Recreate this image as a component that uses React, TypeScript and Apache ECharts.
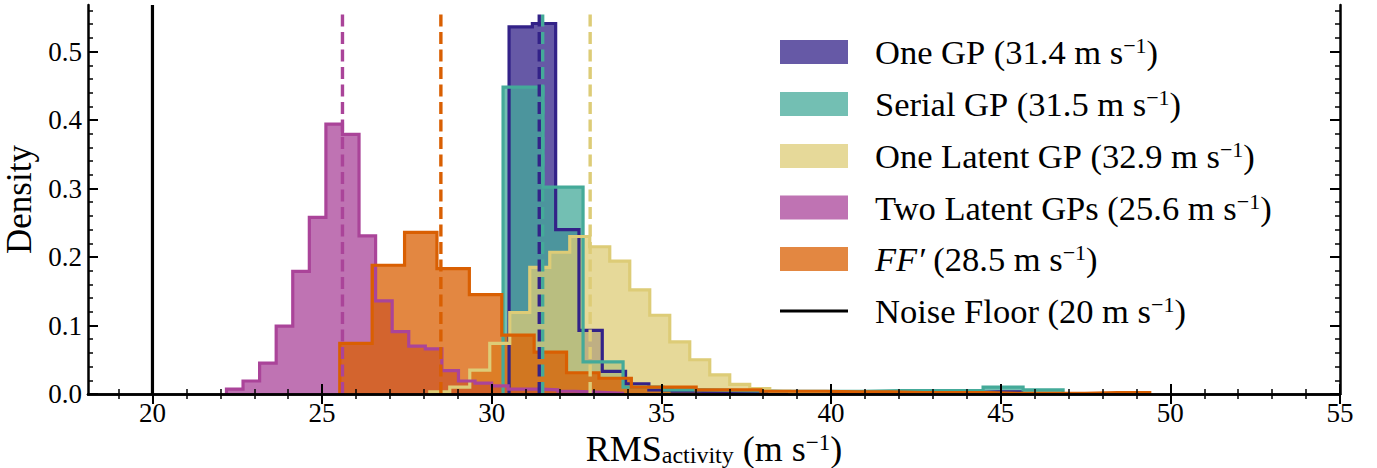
import React, { useEffect, useRef } from "react";
import * as echarts from "echarts";

// ---- data (density per bin) ----
const oneGPStart = 30.51;
const oneGPWidth = 0.6867;
const oneGP = [0.536, 0.541, 0.24, 0.093, 0.033, 0.015, 0.006, 0.004, 0.003, 0.002, 0.002, 0.001, 0.001, 0.001, 0.001, 0.001, 0.001, 0.001, 0.001, 0.002, 0.003, 0.003];

const serialGPStart = 30.333;
const serialGPWidth = 1.179;
const serialGP = [0.448, 0.302, 0.047, 0.01, 0.006, 0.005, 0.004, 0.004, 0.004, 0.005, 0.005, 0.005, 0.01, 0.006];

const oneLatentStart = 28.173;
const oneLatentWidth = 0.5894;
const oneLatent = [0.003, 0.01, 0.035, 0.074, 0.119, 0.185, 0.207, 0.23, 0.215, 0.194, 0.152, 0.115, 0.076, 0.05, 0.028, 0.014, 0.008, 0.004, 0.002, 0.001];

const twoLatentStart = 22.181;
const twoLatentWidth = 0.4884;
const twoLatent = [0.007, 0.019, 0.045, 0.099, 0.179, 0.258, 0.394, 0.379, 0.231, 0.136, 0.091, 0.07, 0.066, 0.034, 0.019, 0.016, 0.012, 0.007, 0.007, 0.006, 0.004, 0.003, 0.002, 0.001];

const ffStart = 25.52;
const ffWidth = 0.9549;
const ff = [0.074, 0.188, 0.236, 0.183, 0.145, 0.086, 0.061, 0.031, 0.023, 0.01, 0.01, 0.006, 0.006, 0.004, 0.004, 0.003, 0.003, 0.002, 0.002, 0.002, 0.001, 0.001, 0.001, 0.002, 0.002];

const means = [31.4, 31.5, 32.9, 25.6, 28.5];
const noiseFloor = 20;
const meanLineTop = 0.557;

const legendLabels = ["One GP", "Serial GP", "One Latent GP", "Two Latent GPs", "FF′"];
const legendValues = ["31.4", "31.5", "32.9", "25.6", "28.5"];

const xMajorTicks = [20, 25, 30, 35, 40, 45, 50, 55];
const xMinorTicks = [19, 21, 22, 23, 24, 26, 27, 28, 29, 31, 32, 33, 34, 36, 37, 38, 39, 41, 42, 43, 44, 46, 47, 48, 49, 51, 52, 53, 54];
const yMajorTicks = [0, 0.1, 0.2, 0.3, 0.4, 0.5];
const yMinorTicks = [0.02, 0.04, 0.06, 0.08, 0.12, 0.14, 0.16, 0.18, 0.22, 0.24, 0.26, 0.28, 0.32, 0.34, 0.36, 0.38, 0.42, 0.44, 0.46, 0.48, 0.52, 0.54, 0.56];

const colors = ["#332288", "#44AA99", "#DDCC77", "#AA4499", "#D95F02"];
const FILL_ALPHA = 0.75;

const X_MIN = 18.1;
const X_MAX = 55;
const Y_MAX = 0.568;

const FONT = "Liberation Serif";

function hexToRgba(hex: string, a: number) {
  const r = parseInt(hex.slice(1, 3), 16);
  const g = parseInt(hex.slice(3, 5), 16);
  const b = parseInt(hex.slice(5, 7), 16);
  return `rgba(${r},${g},${b},${a})`;
}

function stepPoints(start: number, width: number, values: number[]) {
  const pts: number[][] = [[start, 0]];
  values.forEach((v, i) => {
    const x0 = start + i * width;
    const x1 = x0 + width;
    pts.push([x0, v]);
    pts.push([x1, v]);
  });
  pts.push([start + values.length * width, 0]);
  return pts;
}

export default function App() {
  const ref = useRef<HTMLDivElement>(null);

  useEffect(() => {
    document.body.style.margin = "0";
    if (!ref.current) return;
    const chart = echarts.init(ref.current, undefined, { renderer: "svg" });

    const hists = [
      stepPoints(oneGPStart, oneGPWidth, oneGP),
      stepPoints(serialGPStart, serialGPWidth, serialGP),
      stepPoints(oneLatentStart, oneLatentWidth, oneLatent),
      stepPoints(twoLatentStart, twoLatentWidth, twoLatent),
      stepPoints(ffStart, ffWidth, ff),
    ];

    const series: any[] = [];
    hists.forEach((pts, i) => {
      series.push({
        type: "line",
        name: legendLabels[i] + " fill",
        data: pts,
        showSymbol: false,
        symbol: "none",
        silent: true,
        lineStyle: { width: 0 },
        areaStyle: { color: hexToRgba(colors[i], FILL_ALPHA), opacity: 1 },
        xAxisIndex: 0,
        yAxisIndex: 0,
      });
    });
    hists.forEach((pts, i) => {
      series.push({
        type: "line",
        name: legendLabels[i],
        data: pts,
        showSymbol: false,
        symbol: "none",
        silent: true,
        lineStyle: { width: 3.2, color: colors[i], join: "miter" },
        xAxisIndex: 0,
        yAxisIndex: 0,
      });
    });
    means.forEach((m, i) => {
      series.push({
        type: "line",
        name: legendLabels[i] + " mean",
        data: [
          [m, 0],
          [m, meanLineTop],
        ],
        showSymbol: false,
        symbol: "none",
        silent: true,
        lineStyle: { width: 3.4, color: colors[i], type: [12, 5.5], cap: "butt" },
        xAxisIndex: 0,
        yAxisIndex: 0,
      });
    });
    series.push({
      type: "line",
      name: "Noise Floor",
      data: [
        [noiseFloor, 0],
        [noiseFloor, Y_MAX],
      ],
      showSymbol: false,
      symbol: "none",
      silent: true,
      lineStyle: { width: 3.2, color: "#000" },
      xAxisIndex: 0,
      yAxisIndex: 0,
    });

    const axisLine = { show: true, lineStyle: { color: "#000", width: 2.5 } };
    const majorTick = (vals: number[]) => ({
      show: true,
      inside: true,
      length: 10,
      customValues: vals,
      lineStyle: { color: "#000", width: 2 },
    });
    const minorTick = (vals: number[]) => ({
      show: true,
      inside: true,
      length: 5,
      customValues: vals,
      lineStyle: { color: "#000", width: 1.5 },
    });

    const baseX = {
      type: "value",
      min: X_MIN,
      max: X_MAX,
      splitLine: { show: false },
      z: 5,
    };
    const baseY = {
      type: "value",
      min: 0,
      max: Y_MAX,
      splitLine: { show: false },
      z: 5,
    };

    const LEG = 34.5;
    const richLegend = {
      m: { fontFamily: FONT, fontSize: LEG, color: "#000" },
      i: { fontFamily: FONT, fontSize: LEG, fontStyle: "italic", color: "#000" },
      sup: { fontFamily: FONT, fontSize: 22, color: "#000", verticalAlign: "top" },
    };
    const richAxis = {
      m: { fontFamily: FONT, fontSize: 36, lineHeight: 36, color: "#000" },
      sub: { fontFamily: FONT, fontSize: 24, lineHeight: 22, color: "#000", verticalAlign: "bottom" },
      sup: { fontFamily: FONT, fontSize: 23, lineHeight: 23, color: "#000", verticalAlign: "top" },
    };

    const legendGraphics: any[] = [];
    const rowY = [52, 104, 156, 207.5, 259, 311];
    for (let i = 0; i < 5; i++) {
      legendGraphics.push({
        type: "rect",
        shape: { x: 780, y: rowY[i] - 12, width: 68, height: 24 },
        style: { fill: hexToRgba(colors[i], FILL_ALPHA) },
        silent: true,
      });
      const lab = i === 4 ? `{i|${legendLabels[i]}}` : `{m|${legendLabels[i]}}`;
      legendGraphics.push({
        type: "text",
        x: 875,
        y: rowY[i],
        silent: true,
        style: {
          text: `${lab}{m| (${legendValues[i]} m s}{sup|−1}{m|)}`,
          rich: richLegend,
          fontFamily: FONT,
          fontSize: LEG,
          verticalAlign: "middle",
          align: "left",
          fill: "#000",
        },
      });
    }
    legendGraphics.push({
      type: "line",
      shape: { x1: 780, y1: rowY[5], x2: 848, y2: rowY[5] },
      style: { stroke: "#000", lineWidth: 3 },
      silent: true,
    });
    legendGraphics.push({
      type: "text",
      x: 875,
      y: rowY[5],
      silent: true,
      style: {
        text: `{m|Noise Floor (20 m s}{sup|−1}{m|)}`,
        rich: richLegend,
        fontFamily: FONT,
        fontSize: LEG,
        verticalAlign: "middle",
        align: "left",
        fill: "#000",
      },
    });

    chart.setOption({
      animation: false,
      backgroundColor: "#fff",
      grid: { left: 88, right: 37, top: 5, bottom: 74, containLabel: false, outerBoundsMode: "none" },
      xAxis: [
        {
          ...baseX,
          position: "bottom",
          axisLine,
          axisTick: majorTick(xMajorTicks),
          axisLabel: {
            show: true,
            customValues: xMajorTicks,
            fontFamily: FONT,
            fontSize: 27,
            color: "#000",
            margin: 5,
          },
          name: "{m|RMS}{sub|activity}{m| (m s}{sup|−1}{m|)}",
          nameLocation: "middle",
          nameGap: 31,
          nameTextStyle: { rich: richAxis, fontFamily: FONT, fontSize: 36, lineHeight: 36, color: "#000" },
        },
        {
          ...baseX,
          position: "bottom",
          axisLine: { show: false },
          axisTick: minorTick(xMinorTicks),
          axisLabel: { show: false },
        },
        {
          ...baseX,
          position: "top",
          axisLine,
          axisTick: majorTick(xMajorTicks),
          axisLabel: { show: false },
        },
        {
          ...baseX,
          position: "top",
          axisLine: { show: false },
          axisTick: minorTick(xMinorTicks),
          axisLabel: { show: false },
        },
      ],
      yAxis: [
        {
          ...baseY,
          position: "left",
          axisLine,
          axisTick: majorTick(yMajorTicks),
          axisLabel: {
            show: true,
            customValues: yMajorTicks,
            formatter: (v: number) => v.toFixed(1),
            fontFamily: FONT,
            fontSize: 27,
            color: "#000",
            margin: 6,
          },
          name: "Density",
          nameLocation: "middle",
          nameRotate: 90,
          nameGap: 46,
          nameTextStyle: { fontFamily: FONT, fontSize: 35, color: "#000" },
        },
        {
          ...baseY,
          position: "left",
          axisLine: { show: false },
          axisTick: minorTick(yMinorTicks),
          axisLabel: { show: false },
        },
        {
          ...baseY,
          position: "right",
          axisLine,
          axisTick: majorTick(yMajorTicks),
          axisLabel: { show: false },
        },
        {
          ...baseY,
          position: "right",
          axisLine: { show: false },
          axisTick: minorTick(yMinorTicks),
          axisLabel: { show: false },
        },
      ],
      series,
      graphic: legendGraphics,
    });

    return () => chart.dispose();
  }, []);

  return (
    <div
      ref={ref}
      style={{ position: "fixed", left: 0, top: 0, width: 1377, height: 468, background: "#fff" }}
    />
  );
}
